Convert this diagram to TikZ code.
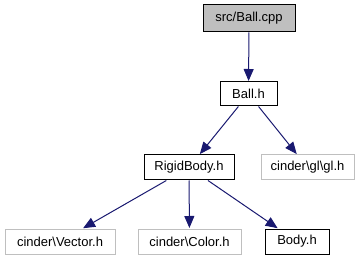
\documentclass[tikz,border=0pt]{standalone}
\usepackage{fontspec}
\setmainfont{Liberation Sans}
\usetikzlibrary{arrows.meta}
\definecolor{edgeblue}{HTML}{191970}
\definecolor{boxgrey}{HTML}{BFBFBF}
\definecolor{faintline}{HTML}{BFBFBF}
\tikzset{
  filebox/.style={draw=black, line width=1pt, fill=white, inner sep=0pt,
    minimum height=25pt, font=\fontsize{13}{15}\selectfont},
  rootbox/.style={filebox, fill=boxgrey},
  extbox/.style={filebox, draw=faintline},
  dep/.style={draw=edgeblue, line width=1pt,
    -{Triangle[length=12pt,width=10pt]}, shorten >=0.5pt}
}
\begin{document}
\begin{tikzpicture}[x=1pt,y=-1pt]
  \useasboundingbox (0,0) rectangle (363,261);
  % include graph nodes
  \node[rootbox, minimum width=92pt, minimum height=27pt] (cpp) at (249,18.5) {src/Ball.cpp};
  \node[filebox, minimum width=57pt, minimum height=24pt] (ball) at (248.5,94) {Ball.h};
  \node[filebox, minimum width=90pt] (rigid) at (189,167.5) {RigidBody.h};
  \node[extbox, minimum width=93pt] (gl) at (307.5,167.5) {cinder\textbackslash gl\textbackslash gl.h};
  \node[extbox, minimum width=110pt] (vec) at (60,241.5) {cinder\textbackslash Vector.h};
  \node[extbox, minimum width=103pt] (col) at (189.5,241.5) {cinder\textbackslash Color.h};
  \node[filebox, minimum width=64pt] (body) at (297,241.5) {Body.h};
  % include edges
  \draw[dep] (cpp) -- (ball);
  \draw[dep] (ball) -- (rigid);
  \draw[dep] (ball) -- (gl);
  \draw[dep] (rigid) -- (vec);
  \draw[dep] (rigid) -- (col);
  \draw[dep] (rigid) -- (body);
\end{tikzpicture}
\end{document}
